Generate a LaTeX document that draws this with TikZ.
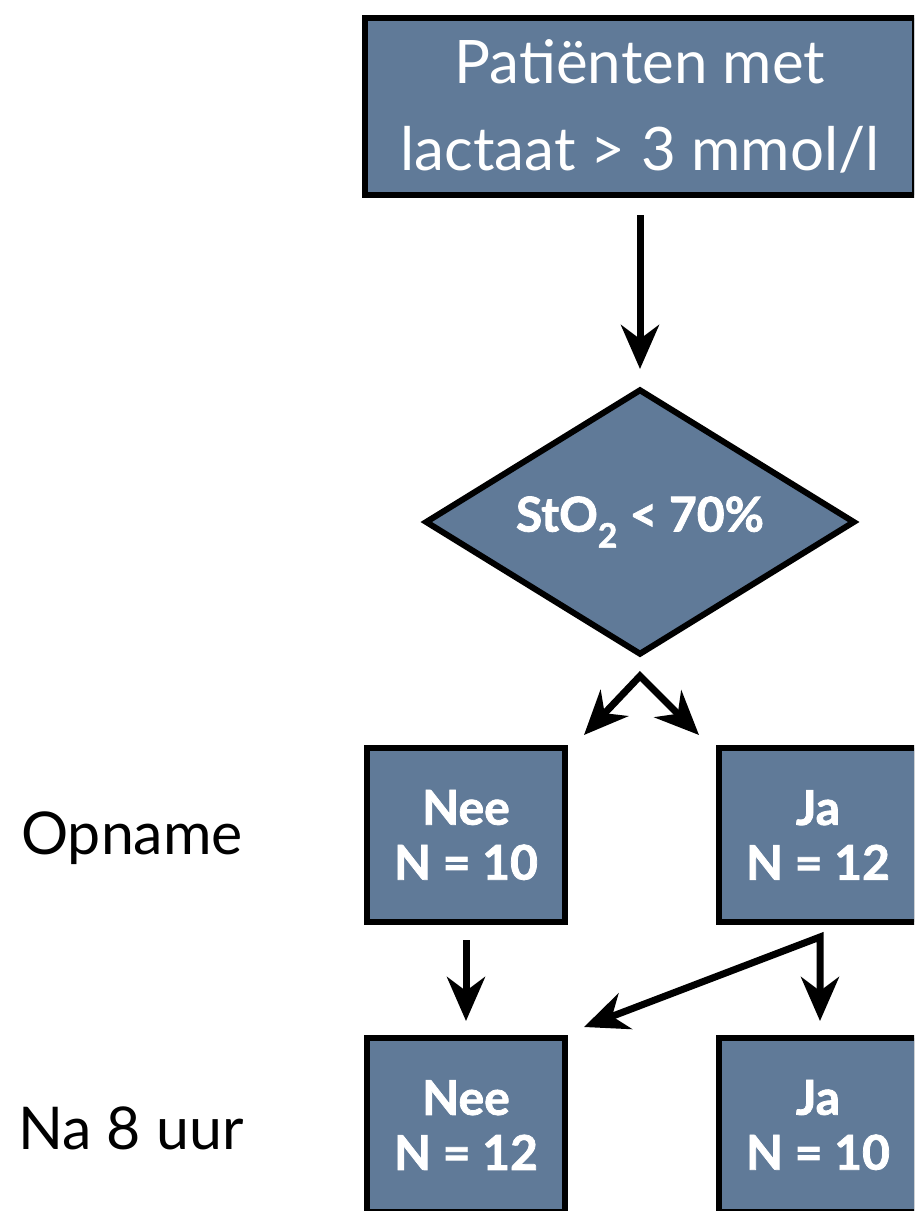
\documentclass[tikz,border=0pt]{standalone}
\usepackage{fontspec}
\setmainfont{Lato}[BoldFeatures={FakeBold=1.6}]
\usetikzlibrary{shapes.geometric,arrows.meta,calc}
\definecolor{boxblue}{RGB}{96,122,152}
\tikzset{
  hd/.tip={Stealth[length=44pt,width=38pt,inset=14pt]},
  box/.style={draw=black, line width=6pt, fill=boxblue, text=white, align=center, inner sep=0pt},
  arr/.style={line width=7pt, -hd},
  twoarr/.style={line width=7pt, hd-hd, line join=miter},
  big/.style={font=\fontsize{60}{87}\selectfont},
  cond/.style={font=\fontsize{48}{55}\selectfont\bfseries},
  side/.style={font=\fontsize{59}{64}\selectfont}
}
\begin{document}
\begin{tikzpicture}[x=1pt,y=-1pt]
\useasboundingbox (0,0) rectangle (914,1211);
\clip (0,0) rectangle (914,1211);
\fill[white] (0,0) rectangle (914,1211);

\node[box, big, minimum width=550pt, minimum height=177pt] (top) at (640,106.5) {Patiënten met\\lactaat > 3 mmol/l};
\node[box, cond, diamond, aspect=1.6, minimum width=430pt, minimum height=266pt] (dia) at (640,522) {StO\textsubscript{2} < 70\%};
\node[box, cond, minimum width=198pt, minimum height=174pt] (nee1) at (466,835) {Nee\\N = 10};
\node[box, cond, minimum width=198pt, minimum height=174pt] (ja1) at (818,835) {Ja\\N = 12};
\node[box, cond, minimum width=198pt, minimum height=174pt] (nee2) at (466,1125) {Nee\\N = 12};
\node[box, cond, minimum width=198pt, minimum height=174pt] (ja2) at (818,1125) {Ja\\N = 10};

\node[side] (opname) at (132,838) {Opname};
\node[side] (na8) at (131,1128) {Na 8 uur};

\draw[arr] ($(top.south)+(0,17)$) -- ($(dia.north)+(0,-17)$);
\coordinate (split) at ($(dia.south)+(0,18)$);
\draw[twoarr] ($(nee1.north east)+(16,-10)$) -- (split) -- ($(ja1.north west)+(-17,-10)$);
\draw[arr] ($(nee1.south)+(0,15)$) -- ($(nee2.north)+(0,-14)$);
\coordinate (fork) at ($(ja1.south)+(2,12)$);
\draw[twoarr] ($(nee2.north east)+(16,-8)$) -- (fork) -- ($(ja2.north)+(2,-14)$);
\end{tikzpicture}
\end{document}
